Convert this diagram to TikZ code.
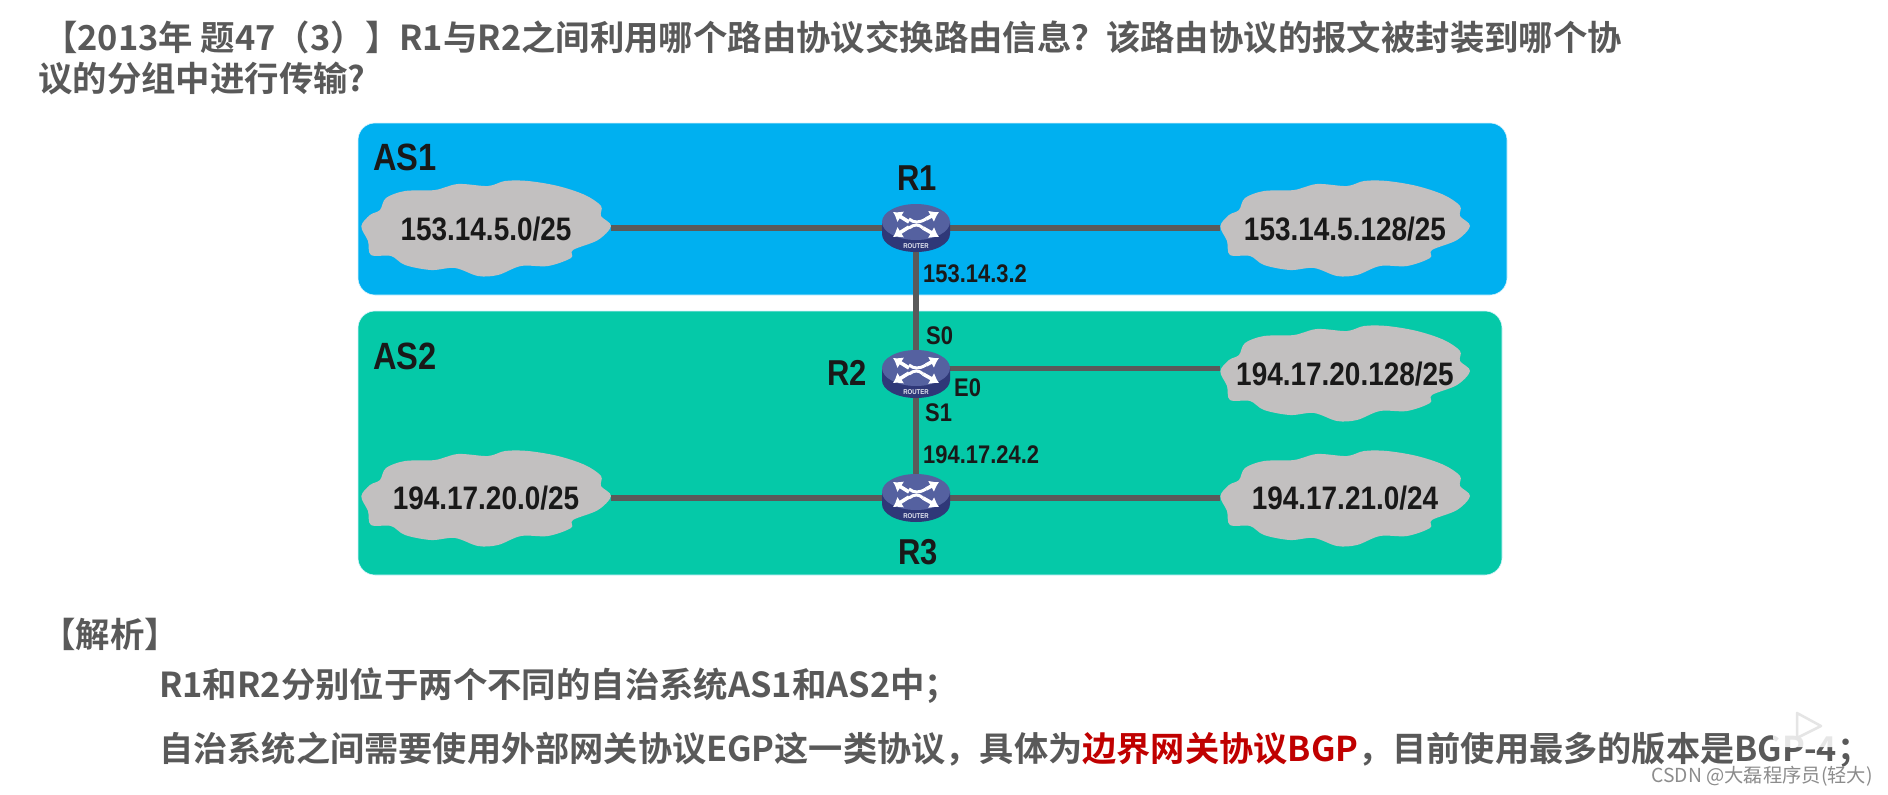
\documentclass[tikz,border=0pt]{standalone}
\usepackage{fontspec}
\setmainfont{Liberation Sans}
\newfontfamily\cjk{Noto Sans CJK SC}[BoldFont={Noto Sans CJK SC Bold}]
\newfontfamily\netf{Liberation Sans}[FakeStretch=0.86]
\usetikzlibrary{shapes.geometric,arrows.meta}
\definecolor{asone}{HTML}{00B0F0}
\definecolor{astwo}{HTML}{05C9A8}
\definecolor{cloudg}{HTML}{C2C0C0}
\definecolor{linkg}{HTML}{5A5A5A}
\definecolor{headg}{HTML}{595959}
\definecolor{redt}{HTML}{C00000}
\definecolor{rtop}{HTML}{5561A0}
\definecolor{rbot}{HTML}{2F3878}
\tikzset{
 asbox/.style={rounded corners=17pt,inner sep=0pt,draw=white!85!cyan,line width=.6pt},
 netcloud/.style={rectangle,inner sep=0pt,minimum width=249pt,minimum height=60pt,
   font=\netf\bfseries\fontsize{32.5}{34}\selectfont,text=black!90},
 rnode/.style={ellipse,minimum width=68pt,minimum height=47pt,inner sep=0pt},
 link/.style={draw=linkg,line width=5.5pt},
 vlink/.style={draw=linkg,line width=6pt},
 rname/.style={font=\netf\bfseries\fontsize{36}{38}\selectfont,text=black!90,inner sep=0pt},
 asname/.style={font=\netf\bfseries\fontsize{38}{40}\selectfont,text=black!90,inner sep=0pt},
 small/.style={font=\netf\bfseries\fontsize{25.5}{27}\selectfont,text=black!90,inner sep=0pt,anchor=west},
 head/.style={font=\cjk\bfseries\fontsize{34.4}{38}\selectfont,text=headg,inner sep=0pt,anchor=west},
 rarrow/.style={draw=white,line width=3.6pt,-{Latex[length=9pt,width=13pt]}},
 rwave/.style={draw=white,line width=3pt}
}
\newcommand{\cloudart}[1]{%
 \fill[cloudg,shift={(#1)}] plot[smooth cycle,tension=.55] coordinates {(-124.7,-1.7) (-116,-13) (-106,-18) (-100,-30) (-81,-37) (-51,-38) (-28,-44) (2,-42) (19,-47) (42,-47) (72,-42) (99,-33) (115,-22) (115,-12) (125,-2) (112,12) (87,22) (85,30) (62,38) (35,38) (12,47) (-8,48) (-31,40) (-55,42) (-81,37) (-95,28) (-115,27) (-118,13)};}
\newcommand{\routerart}[1]{%
 \begin{scope}[shift={(#1)}]
  \fill[rbot] (-34,-6) -- (-34,6) .. controls (-34,16) and (-19,24) .. (0,24) .. controls (19,24) and (34,16) .. (34,6) -- (34,-6) -- cycle;
  \fill[rtop] (0,-6) ellipse[x radius=34,y radius=18];
  \draw[rarrow] (-7,-6) -- (-23,-16);
  \draw[rarrow] (10,-9) -- (23,-16);
  \draw[rarrow] (-7,-1) -- (-23,9);
  \draw[rarrow] (7,0) -- (23,9);
  \draw[rwave] (-7,-9) .. controls (-2,-5) and (3,-5) .. (10,-9);
  \draw[rwave] (-7,0) .. controls (-2,-4) and (3,-4) .. (7,0);
  \node[font=\netf\bfseries\fontsize{7}{8}\selectfont,text=white!85!rtop,inner sep=0pt] at (0,18) {ROUTER};
 \end{scope}}
\begin{document}
\begin{tikzpicture}[x=1pt,y=-1pt]
\useasboundingbox (0,0) rectangle (1888,795);
\fill[white] (0,0) rectangle (1888,795);
% AS regions
\node[asbox,fill=asone,minimum width=1149pt,minimum height=172pt] (as1) at (932.5,209) {};
\node[asbox,fill=astwo,minimum width=1144pt,minimum height=264pt] (as2) at (930,443) {};
\node[asname] (as1t) at (405,157) {AS1};
\node[asname] (as2t) at (405,356) {AS2};
% clouds
\cloudart{486,228}
\cloudart{1345,228}
\cloudart{1345,373}
\cloudart{486,498}
\cloudart{1345,498}
% nodes
\node[rnode] (r1) at (916,228) {};
\node[rnode] (r2) at (916,374) {};
\node[rnode] (r3) at (916,498) {};
\node[netcloud] (c1) at (486,229) {153.14.5.0/25};
\node[netcloud] (c2) at (1345,229) {153.14.5.128/25};
\node[netcloud] (c3) at (1345,374) {194.17.20.128/25};
\node[netcloud] (c4) at (486,498) {194.17.20.0/25};
\node[netcloud] (c5) at (1345,498) {194.17.21.0/24};
% links
\draw[link] (c1.east|-r1.center) -- (r1.center);
\draw[link] (r1.center) -- (c2.west|-r1.center);
\draw[vlink] (r1.center) -- (r2.center);
\draw[vlink] (r2.center) -- (r3.center);
\draw[link] ([yshift=5.5pt]r2.center) -- ([yshift=5.5pt]r2.center-|c3.west);
\draw[link] (c4.east|-r3.center) -- (r3.center);
\draw[link] (r3.center) -- (c5.west|-r3.center);
\routerart{916,228}
\routerart{916,374}
\routerart{916,498}
% labels
\node[rname] (r1t) at (917,178) {R1};
\node[rname] (r2t) at (847,373) {R2};
\node[rname] (r3t) at (918,552) {R3};
\node[small] (ip1) at (923,274) {153.14.3.2};
\node[small] (s0) at (926,336) {S0};
\node[small] (e0) at (954,388) {E0};
\node[small] (s1) at (925,413) {S1};
\node[small] (ip2) at (923,455) {194.17.24.2};
% text
\node[head] (h1) at (43,37) {【2013年 题47（3）】R1与R2之间利用哪个路由协议交换路由信息？该路由协议的报文被封装到哪个协};
\node[head] (h2) at (38,79) {议的分组中进行传输?};
\node[head] (h3) at (41,634) {【解析】};
\node[head] (h4) at (159,686) {R1和R2分别位于两个不同的自治系统AS1和AS2中；};
\node[head,font=\cjk\bfseries\fontsize{34.2}{38}\selectfont] (h5) at (159,750) {自治系统之间需要使用外部网关协议EGP这一类协议，具体为\textcolor{redt}{边界网关协议BGP}，目前使用最多的版本是BGP-4；};
% watermark
\node[font=\cjk\fontsize{19.3}{21}\selectfont,text=black!45,inner sep=0pt,anchor=east] (wm) at (1873,776) {CSDN @大磊程序员(轻大)};
\fill[white,opacity=.85,rounded corners=9pt] (1773,698) rectangle (1841,747);
\fill[white,opacity=.85] (1783,699) -- (1780,688) -- (1793,698) -- cycle (1831,699) -- (1834,688) -- (1821,698) -- cycle;
\draw[black!10,line width=2.5pt,line join=round,fill=white] (1797,713) -- (1821,726) -- (1797,738) -- cycle;
\end{tikzpicture}
\end{document}
